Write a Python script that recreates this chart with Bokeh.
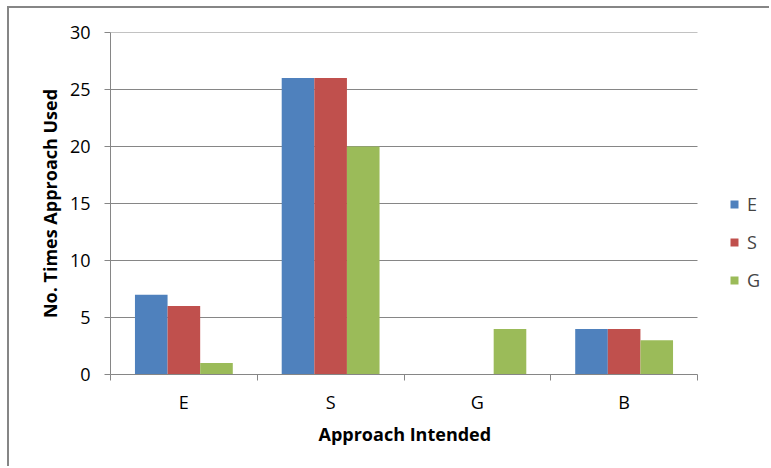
import numpy as np
from bokeh.plotting import figure
from bokeh.models import (ColumnDataSource, FixedTicker, Range1d, Legend,
                          LegendItem, Title)
from bokeh.embed import file_html
from bokeh.resources import INLINE

# Approach intended (categories on the x axis)
categories = ["E", "S", "G", "B"]
# Number of times each approach was used, per series
series_names = ["E", "S", "G"]
used_E = [7, 26, 0, 4]
used_S = [6, 26, 0, 4]
used_G = [1, 20, 4, 3]
y_ticks = [0, 5, 10, 15, 20, 25, 30]

colors = ["#4F81BD", "#C0504D", "#9BBB59"]
grid_color = "#868686"
FONT = "Open Sans"

n_cat = len(categories)
centers = np.arange(n_cat) + 0.5
bar_w = 1.0 / 4.5  # three bars plus a 150% gap per category

# The frame runs to the right edge so the legend can sit inside it;
# the plotted categories occupy the first 587 of its 661 pixels.
FRAME_W, PLOT_W = 661, 587
x_end = n_cat * FRAME_W / PLOT_W

p = figure(width=762, height=460, output_backend="svg", toolbar_location=None,
           x_range=Range1d(0, x_end), y_range=Range1d(0, 30),
           min_border_left=101, min_border_right=0, min_border_top=24,
           min_border_bottom=94,
           styles={"border-left": "2px solid #868686",
                   "border-top": "2px solid #868686",
                   "margin-left": "7px", "margin-top": "6px"})
p.outline_line_color = None
p.background_fill_color = "white"
p.border_fill_color = "white"

# horizontal gridlines across the category area
grid_src = ColumnDataSource(dict(x0=[0] * (len(y_ticks) - 1),
                                 x1=[n_cat] * (len(y_ticks) - 1),
                                 y=y_ticks[1:]))
p.segment(x0="x0", x1="x1", y0="y", y1="y", source=grid_src,
          line_color=grid_color, line_width=1)

items = []
for i, (name, vals) in enumerate(zip(series_names, [used_E, used_S, used_G])):
    src = ColumnDataSource(dict(x=centers + (i - 1) * bar_w, top=vals))
    r = p.vbar(x="x", top="top", width=bar_w, source=src,
               fill_color=colors[i], line_color=None)
    items.append(LegendItem(label=name, renderers=[r]))

# y axis
p.yaxis.ticker = FixedTicker(ticks=y_ticks)
p.yaxis.axis_label = "No. Times Approach Used"
p.yaxis.axis_line_color = grid_color
p.yaxis.major_tick_line_color = grid_color
p.yaxis.major_tick_out = 6
p.yaxis.major_tick_in = 0
p.yaxis.minor_tick_line_color = None
p.yaxis.major_label_standoff = 14
p.yaxis.axis_label_standoff = 5
p.yaxis.axis_label_text_font = FONT
p.yaxis.axis_label_text_font_size = "18px"
p.yaxis.axis_label_text_font_style = "bold"
p.yaxis.axis_label_text_color = "#000000"

# x axis: labels at category centres, ticks at category boundaries
p.xaxis.ticker = FixedTicker(ticks=list(centers),
                             minor_ticks=list(range(n_cat + 1)))
p.xaxis.bounds = (0, n_cat)
p.xaxis.major_label_overrides = {float(c): lab for c, lab in zip(centers, categories)}
p.xaxis.axis_line_color = grid_color
p.xaxis.major_tick_line_color = None
p.xaxis.minor_tick_line_color = grid_color
p.xaxis.minor_tick_out = 6
p.xaxis.minor_tick_in = 0
p.xaxis.major_label_standoff = 9

for ax in (p.xaxis, p.yaxis):
    ax.major_label_text_font = FONT
    ax.major_label_text_font_size = "18px"
    ax.major_label_text_color = "#000000"

# x axis title, placed under the category area rather than the whole frame
x_title = Title(text="Approach Intended", align="left", offset=208,
                text_font=FONT, text_font_size="18px", text_font_style="bold",
                text_color="#000000", standoff=6)
p.add_layout(x_title, "below")

p.xgrid.grid_line_color = None
p.ygrid.grid_line_color = None

legend = Legend(items=items, location=(619, 82), orientation="vertical")
legend.label_text_font = FONT
legend.label_text_font_size = "18px"
legend.glyph_width = 10
legend.glyph_height = 10
legend.label_height = 20
legend.spacing = 14
legend.label_standoff = 8
legend.padding = 0
legend.margin = 0
legend.border_line_color = None
legend.background_fill_alpha = 0
p.add_layout(legend, "center")

open("out.html", "w").write(file_html(p, INLINE))
